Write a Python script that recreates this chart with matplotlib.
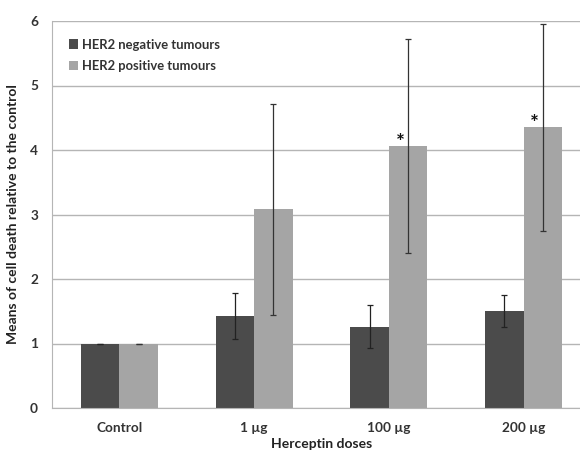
import matplotlib
matplotlib.use("Agg")
import matplotlib.pyplot as plt
import numpy as np

categories = ["Control", "1 µg", "100 µg", "200 µg"]
neg_vals = [1.0, 1.43, 1.26, 1.50]
neg_err = [0.0, 0.36, 0.33, 0.25]
pos_vals = [1.0, 3.08, 4.06, 4.35]
pos_err = [0.0, 1.64, 1.66, 1.60]
star_cats = [2, 3]
legend_labels = ["HER2 negative tumours", "HER2 positive tumours"]

plt.rcParams['font.family'] = ['Lato', 'DejaVu Sans']
fig = plt.figure(figsize=(5.8, 4.54), dpi=100)
ax = fig.add_axes([52/580, 1-408/454, 539/580, (408-21)/454])

x = np.arange(len(categories))
w = 0.285
dark = "#4b4b4b"
light = "#a5a5a5"
ax.bar(x - w/2, neg_vals, w, color=dark, label=legend_labels[0], zorder=2)
ax.bar(x + w/2, pos_vals, w, color=light, label=legend_labels[1], zorder=2)
ax.errorbar(x - w/2, neg_vals, yerr=neg_err, fmt='none', ecolor='#222222',
            elinewidth=0.9, capsize=2, capthick=0.9, zorder=3)
ax.errorbar(x + w/2, pos_vals, yerr=pos_err, fmt='none', ecolor='#333333',
            elinewidth=0.9, capsize=2, capthick=0.9, zorder=3)
for c in star_cats:
    ax.text(c + w/2 - 0.06, pos_vals[c] - 0.1, "*", ha='center', va='bottom',
            fontsize=15, fontweight='bold', color='#111111', zorder=4)

ax.set_ylim(0, 6)
ax.set_xlim(-0.5, 3.5)
ax.set_yticks(range(0, 7))
ax.set_xticks(x)
ax.set_xticklabels(categories)
ax.yaxis.grid(True, color='#b5b5b5', linewidth=1.0, zorder=0)
ax.set_axisbelow(True)
for s in ['top', 'right']:
    ax.spines[s].set_visible(False)
ax.spines['left'].set_color('#b5b5b5')
ax.spines['bottom'].set_color('#b5b5b5')
ax.tick_params(axis='both', length=0, labelsize=9.8, labelcolor='#333333')
ax.tick_params(axis='y', pad=10)
ax.tick_params(axis='x', pad=10)
for lab in ax.get_xticklabels() + ax.get_yticklabels():
    lab.set_fontweight('bold')

ax.set_ylabel("Means of cell death relative to the control", fontsize=10,
              fontweight='bold', color='#222222', labelpad=8)
ax.set_xlabel("Herceptin doses", fontsize=10, fontweight='bold', color='#222222', labelpad=3)

leg = ax.legend(loc='upper left', bbox_to_anchor=(0.01, 0.985), frameon=False,
                fontsize=9.4, handlelength=0.7, handleheight=0.7, handletextpad=0.3,
                labelspacing=0.75)
for t in leg.get_texts():
    t.set_fontweight('bold')
    t.set_color('#333333')

fig.savefig("out.png", dpi=100)
